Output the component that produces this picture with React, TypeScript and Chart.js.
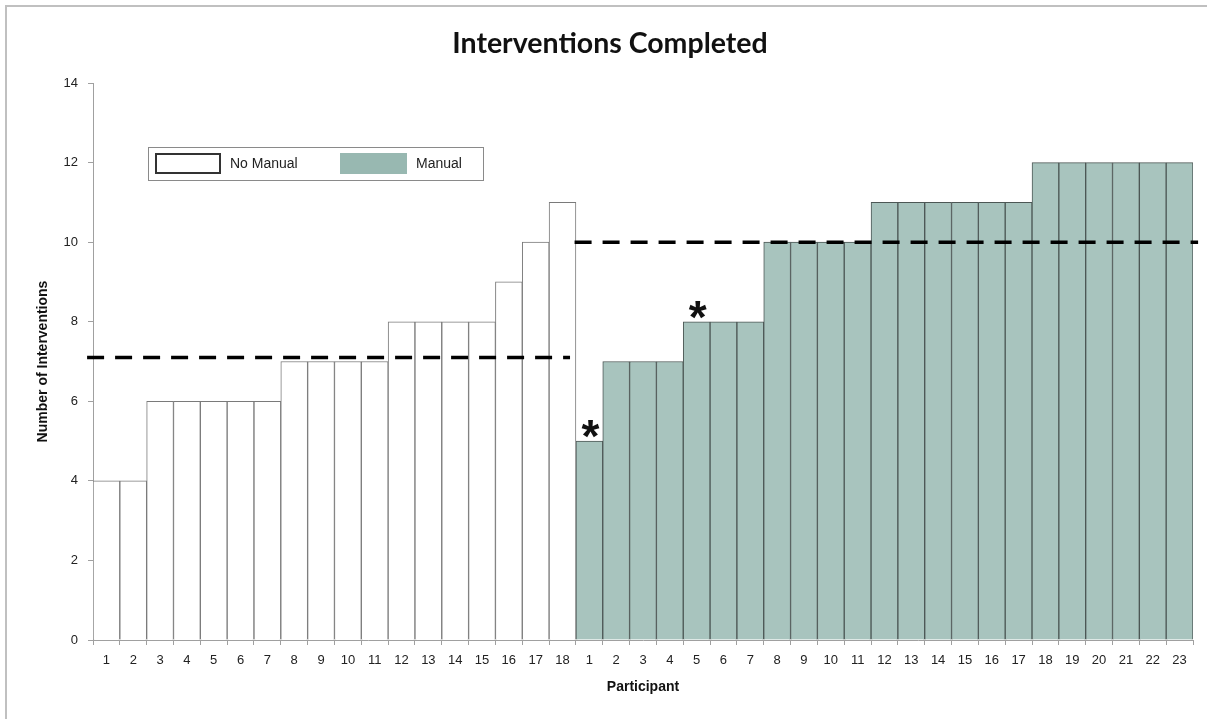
import { useEffect, useRef } from "react";
import { Chart, registerables } from "chart.js";

Chart.register(...registerables);

const noManualLabels = ["1", "2", "3", "4", "5", "6", "7", "8", "9", "10", "11", "12", "13", "14", "15", "16", "17", "18"];
const manualLabels = ["1", "2", "3", "4", "5", "6", "7", "8", "9", "10", "11", "12", "13", "14", "15", "16", "17", "18", "19", "20", "21", "22", "23"];
const noManualValues = [4, 4, 6, 6, 6, 6, 6, 7, 7, 7, 7, 8, 8, 8, 8, 9, 10, 11];
const manualValues = [5, 7, 7, 7, 8, 8, 8, 10, 10, 10, 10, 11, 11, 11, 11, 11, 11, 12, 12, 12, 12, 12, 12];
const meanNoManual = 7.1;
const meanManual = 10;
const starredManual = [1, 5];
const seriesNames = ["No Manual", "Manual"];

const MANUAL_FILL = "#a8c4be";
const MANUAL_LEGEND = "#98b8b1";

export default function App() {
  const ref = useRef<HTMLCanvasElement | null>(null);

  useEffect(() => {
    if (!ref.current) return;
    const nA = noManualLabels.length;
    const nB = manualLabels.length;
    const labels = [...noManualLabels, ...manualLabels];
    const dataA = [...noManualValues, ...new Array(nB).fill(null)];
    const dataB = [...new Array(nA).fill(null), ...manualValues];

    const overlay = {
      id: "overlay",
      afterDatasetsDraw(chart: any) {
        const { ctx, chartArea } = chart;
        const xs = chart.scales.x;
        const ys = chart.scales.y;
        // asterisks
        ctx.save();
        ctx.fillStyle = "#111";
        ctx.font = "bold 46px 'Liberation Sans', Arial, sans-serif";
        ctx.textAlign = "center";
        ctx.textBaseline = "alphabetic";
        starredManual.forEach((p) => {
          const idx = nA + p - 1;
          const x = xs.getPixelForValue(idx);
          const y = ys.getPixelForValue(manualValues[p - 1]);
          ctx.fillText("*", x + 1, y + 11);
        });
        ctx.restore();

        // legend
        const lx = chartArea.left + 55;
        const ly = chartArea.top + 64;
        const lw = 335;
        const lh = 33;
        ctx.save();
        ctx.fillStyle = "#fff";
        ctx.fillRect(lx, ly, lw, lh);
        ctx.strokeStyle = "#8a8a8a";
        ctx.lineWidth = 1;
        ctx.strokeRect(lx + 0.5, ly + 0.5, lw, lh);
        ctx.strokeStyle = "#333";
        ctx.lineWidth = 2;
        ctx.strokeRect(lx + 8, ly + 7, 64, 19);
        ctx.fillStyle = MANUAL_LEGEND;
        ctx.fillRect(lx + 192, ly + 6, 67, 21);
        ctx.fillStyle = "#222";
        ctx.font = "14px 'Liberation Sans', Arial, sans-serif";
        ctx.textAlign = "left";
        ctx.textBaseline = "middle";
        ctx.fillText(seriesNames[0], lx + 82, ly + 17);
        ctx.fillText(seriesNames[1], lx + 268, ly + 17);
        ctx.restore();
      },
    };

    const chart = new Chart(ref.current, {
      type: "bar",
      data: {
        labels,
        datasets: [
          {
            type: "line",
            label: "mean-no",
            data: [
              { x: -0.72, y: meanNoManual },
              { x: nA - 0.72, y: meanNoManual },
            ],
            xAxisID: "xl",
            borderColor: "#000",
            borderWidth: 3.5,
            borderDash: [17, 11],
            pointRadius: 0,
            clip: false,
            order: 0,
          } as any,
          {
            type: "line",
            label: "mean-m",
            data: [
              { x: nA - 0.55, y: meanManual },
              { x: nA + nB - 0.31, y: meanManual },
            ],
            xAxisID: "xl",
            borderColor: "#000",
            borderWidth: 3.5,
            borderDash: [17, 11],
            pointRadius: 0,
            clip: false,
            order: 0,
          } as any,
          {
            label: seriesNames[0],
            data: dataA,
            backgroundColor: "#ffffff",
            borderColor: "#7a7a7a",
            borderWidth: 1,
            grouped: false,
            barPercentage: 1,
            categoryPercentage: 1,
            order: 1,
          } as any,
          {
            label: seriesNames[1],
            data: dataB,
            backgroundColor: MANUAL_FILL,
            borderColor: "#4c5755",
            borderWidth: 1,
            grouped: false,
            barPercentage: 1,
            categoryPercentage: 1,
            order: 1,
          } as any,
        ],
      },
      options: {
        animation: false,
        responsive: true,
        maintainAspectRatio: false,
        layout: { padding: { left: 13, right: 0, top: 0, bottom: 0 } },
        plugins: {
          legend: { display: false },
          tooltip: { enabled: false },
          title: {
            display: true,
            text: "Interventions Completed",
            color: "#111",
            font: { family: "Lato, 'Open Sans', sans-serif", size: 28.5, weight: "bold" },
            padding: { top: 27, bottom: 21.8 },
          },
        },
        scales: {
          x: {
            type: "category",
            offset: true,
            afterFit: (s: any) => {
              s.height = 79;
            },
            grid: {
              offset: true,
              drawOnChartArea: false,
              drawTicks: true,
              tickLength: 5,
              color: "#a0a0a0",
            },
            border: { display: true, color: "#a0a0a0", width: 1 },
            ticks: {
              autoSkip: false,
              maxRotation: 0,
              minRotation: 0,
              padding: 8,
              color: "#222",
              font: { family: "'Liberation Sans', Arial, sans-serif", size: 13 },
            },
            title: {
              display: true,
              text: "Participant",
              color: "#111",
              font: { family: "'Liberation Sans', Arial, sans-serif", size: 14, weight: "bold" },
              padding: { top: 4, bottom: 23 },
            },
          },
          xl: {
            type: "linear",
            display: false,
            offset: false,
            grid: { offset: false },
            min: -0.5,
            max: nA + nB - 0.5,
          },
          y: {
            min: 0,
            max: 14,
            ticks: {
              stepSize: 2,
              padding: 10,
              color: "#222",
              font: { family: "'Liberation Sans', Arial, sans-serif", size: 13 },
            },
            afterFit: (s: any) => {
              s.width = 80;
            },
            grid: {
              drawOnChartArea: false,
              drawTicks: true,
              tickLength: 5,
              color: "#a0a0a0",
            },
            border: { display: true, color: "#a0a0a0", width: 1 },
            title: {
              display: true,
              text: "Number of Interventions",
              color: "#111",
              font: { family: "'Liberation Sans', Arial, sans-serif", size: 14, weight: "bold" },
              padding: { top: 22, bottom: 4 },
            },
          },
          yr: {
            type: "linear",
            position: "right",
            display: true,
            min: 0,
            max: 14,
            afterFit: (s: any) => {
              s.width = 14;
            },
            ticks: { display: false },
            grid: { display: false, drawTicks: false },
            border: { display: false },
          },
        },
      } as any,
      plugins: [overlay],
    });
    return () => chart.destroy();
  }, []);

  return (
    <div style={{ position: "fixed", left: 0, top: 0, width: 1207, height: 719, background: "#fff", overflow: "hidden" }}>
      <div
        style={{
          position: "absolute",
          left: 5,
          top: 5,
          width: 1300,
          height: 800,
          borderLeft: "2px solid #c0c0c0",
          borderTop: "2px solid #c0c0c0",
        }}
      />
      <div style={{ position: "absolute", left: 0, top: 0, width: 1207, height: 719 }}>
        <canvas ref={ref} />
      </div>
    </div>
  );
}
